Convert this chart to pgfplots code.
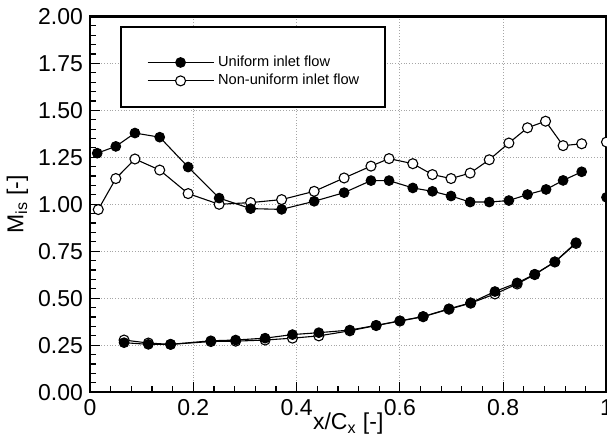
\documentclass[border=0pt]{standalone}
\usepackage{pgfplots}
\pgfplotsset{compat=1.18}
\usepackage{fontspec}
\setmainfont{Liberation Sans}

\pgfplotstableread{
x y
0.014 1.272
0.050 1.308
0.087 1.379
0.135 1.357
0.190 1.198
0.250 1.033
0.311 0.977
0.371 0.973
0.434 1.016
0.492 1.062
0.544 1.126
0.579 1.126
0.625 1.087
0.663 1.069
0.699 1.044
0.736 1.012
0.773 1.012
0.811 1.020
0.847 1.052
0.883 1.079
0.916 1.127
0.952 1.173
nan nan
1.000 1.037
nan nan
0.066 0.264
0.113 0.255
0.156 0.255
0.234 0.274
0.282 0.278
0.339 0.288
0.392 0.307
0.443 0.317
0.503 0.331
0.554 0.356
0.600 0.380
0.645 0.403
0.695 0.444
0.737 0.476
0.784 0.536
0.827 0.582
0.861 0.628
0.900 0.694
0.941 0.796
}\uniform

\pgfplotstableread{
x y
0.016 0.972
0.050 1.137
0.087 1.241
0.135 1.182
0.190 1.057
0.250 1.000
0.311 1.009
0.371 1.025
0.434 1.069
0.492 1.140
0.544 1.203
0.579 1.243
0.625 1.216
0.663 1.158
0.699 1.137
0.736 1.166
0.773 1.237
0.811 1.326
0.847 1.407
0.882 1.442
0.916 1.312
0.952 1.322
nan nan
1.000 1.331
nan nan
0.066 0.278
0.113 0.262
0.156 0.255
0.234 0.270
0.282 0.272
0.339 0.278
0.392 0.288
0.443 0.300
0.503 0.327
0.554 0.355
0.600 0.379
0.645 0.402
0.695 0.442
0.737 0.474
0.784 0.523
0.827 0.576
0.861 0.626
0.900 0.693
0.941 0.792
}\nonuniform

\begin{document}
\begin{tikzpicture}
\useasboundingbox (0,0) rectangle (303.5pt,222.5pt);
\begin{axis}[
  at={(45pt,26.35pt)}, anchor=south west,
  scale only axis, width=258.25pt, height=188pt,
  xmin=0, xmax=1, ymin=0, ymax=2,
  xtick={0,0.2,0.4,0.6,0.8,1},
  xticklabels={0,0.2,0.4,0.6,0.8,1},
  ytick={0,0.25,0.5,0.75,1,1.25,1.5,1.75,2},
  yticklabels={0.00,0.25,0.50,0.75,1.00,1.25,1.50,1.75,2.00},
  minor tick num=4,
  tick pos=left,
  tick align=inside,
  major tick length=5pt,
  minor tick length=3pt,
  every tick/.style={black, line width=0.6pt},
  axis line style={line width=1.2pt},
  grid=major,
  major grid style={densely dotted, gray!70, line width=0.45pt},
  tick label style={font=\fontsize{11.5}{13}\selectfont},
  label style={font=\fontsize{11.5}{13}\selectfont},
  xlabel={x/C\textsubscript{x} [-]},
  ylabel={M\textsubscript{is} [-]},
  xlabel style={at={(axis description cs:0.5,-0.084)}, anchor=center},
  ylabel style={at={(axis description cs:-0.1404,0.5)}, anchor=center, rotate=0},
  unbounded coords=jump,
  clip mode=individual,
  legend cell align=left,
  reverse legend,
  legend style={draw=none, fill=none, at={(axis description cs:0.098,0.8527)}, anchor=west,
    font=\fontsize{7.3}{8}\selectfont, row sep=2.3pt,
    nodes={inner ysep=0pt, inner xsep=2pt, text height=5.4pt, text depth=1.5pt}},
  legend image code/.code={\draw[mark repeat=2,mark phase=2] plot coordinates {(0pt,0pt)(16.5pt,0pt)(33pt,0pt)};},
]
\draw[fill=white, line width=0.7pt] (rel axis cs:0.060,0.7588) rectangle (rel axis cs:0.5711,0.9715);
\addplot[black, line width=0.55pt, mark=*, mark size=2.5pt, mark options={fill=white, draw=black, line width=0.55pt}] table[x=x,y=y] {\nonuniform};
\addlegendentry{Non-uniform inlet flow}
\addplot[black, line width=0.55pt, mark=*, mark size=2.4pt, mark options={fill=black, draw=black}] table[x=x,y=y] {\uniform};
\addlegendentry{Uniform inlet flow}
\end{axis}
\end{tikzpicture}
\end{document}
